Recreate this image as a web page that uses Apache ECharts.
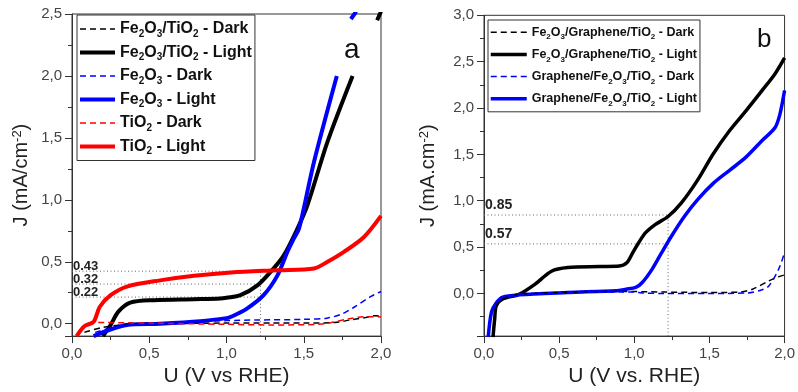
<!DOCTYPE html>
<html>
<head>
<meta charset="utf-8">
<script src="https://cdn.jsdelivr.net/npm/echarts@6/dist/echarts.min.js"></script>
<style>html,body{margin:0;padding:0;background:#fff;}#c{width:798px;height:392px;}</style>
</head>
<body>
<div id="c"></div>
<script>
// ---------- Panel a data: [U (V vs RHE), J (mA/cm2)] ----------
const a_FeTi_dark = [[0.08,-0.07],[0.2,-0.03],[0.4,0.0],[0.7,0.003],[1.0,0.005],[1.3,0.005],[1.5,0.005],[1.7,0.01],[1.8,0.03],[1.9,0.05],[1.96,0.065],[2.0,0.06]];
const a_FeTi_light = [[0.2,-0.1],[0.25,-0.01],[0.3,0.097],[0.377,0.17],[0.53,0.19],[0.79,0.198],[0.96,0.204],[1.0,0.21],[1.09,0.23],[1.2,0.31],[1.286,0.42],[1.37,0.55],[1.46,0.77],[1.524,0.957],[1.654,1.47],[1.816,2.0],[null,null],[1.975,2.45],[2.0,2.52]];
const a_Fe_dark = [[0.15,-0.07],[0.3,-0.02],[0.5,0.0],[0.8,0.015],[1.0,0.025],[1.2,0.03],[1.5,0.035],[1.65,0.045],[1.75,0.08],[1.83,0.137],[1.935,0.22],[2.0,0.26]];
const a_Fe_light = [[0.14,-0.1],[0.355,-0.01],[0.57,0.0],[0.83,0.02],[1.0,0.045],[1.03,0.056],[1.13,0.12],[1.24,0.23],[1.33,0.39],[1.394,0.58],[1.437,0.69],[1.47,0.77],[1.567,1.31],[1.714,2.0],[null,null],[1.805,2.46],[1.84,2.52]];
const a_Ti_dark = [[0.17,0.01],[0.5,0.005],[1.0,-0.005],[1.3,-0.01],[1.6,-0.005],[1.675,0.008],[1.78,0.037],[1.89,0.056],[2.0,0.055]];
const a_Ti_light = [[0.03,-0.1],[0.08,-0.02],[0.14,0.016],[0.18,0.137],[0.25,0.23],[0.355,0.30],[0.57,0.35],[0.79,0.387],[1.03,0.414],[1.33,0.432],[1.567,0.446],[1.654,0.5],[1.76,0.58],[1.89,0.70],[2.0,0.87]];
const a_markValues = ['0.43', '0.32', '0.22'];
const a_markLevels = [0.424, 0.32, 0.215];
const a_markU = 1.22;

// ---------- Panel b data ----------
const b_FGT_dark = [[0.06,-0.47],[0.07,-0.28],[0.085,-0.13],[0.125,-0.06],[0.23,-0.01],[0.5,0.01],[0.8,0.02],[1.0,0.02],[1.2,0.015],[1.5,0.01],[1.7,0.015],[1.786,0.046],[1.895,0.135],[1.96,0.18],[2.0,0.2]];
const b_FGT_light = [[0.06,-0.47],[0.071,-0.275],[0.082,-0.13],[0.125,-0.06],[0.233,-0.01],[0.34,0.10],[0.449,0.24],[0.557,0.28],[0.772,0.29],[0.90,0.295],[0.95,0.33],[0.99,0.44],[1.03,0.55],[1.074,0.653],[1.139,0.742],[1.225,0.83],[1.312,0.974],[1.42,1.22],[1.527,1.51],[1.636,1.76],[1.743,1.97],[1.851,2.19],[1.937,2.37],[2.0,2.54]];
const b_GFT_dark = [[0.03,-0.47],[0.05,-0.2],[0.08,-0.1],[0.125,-0.04],[0.23,-0.015],[0.5,0.005],[0.9,0.015],[1.0,0.015],[1.05,0.005],[1.2,0.0],[1.5,0.0],[1.75,0.005],[1.85,0.04],[1.895,0.08],[1.96,0.26],[2.0,0.44]];
const b_GFT_light = [[0.028,-0.47],[0.05,-0.2],[0.082,-0.1],[0.125,-0.04],[0.233,-0.015],[0.557,0.01],[0.88,0.03],[0.945,0.046],[1.01,0.065],[1.053,0.118],[1.118,0.26],[1.182,0.44],[1.247,0.617],[1.333,0.83],[1.42,1.01],[1.527,1.19],[1.636,1.33],[1.743,1.47],[1.851,1.65],[1.937,1.79],[1.97,1.94],[2.0,2.19]];
const b_markValues = ['0.85', '0.57'];
const b_markLevels = [0.846, 0.535];
const b_markU = 1.225;

const names_a = ['Fe2O3/TiO2 - Dark','Fe2O3/TiO2 - Light','Fe2O3 - Dark','Fe2O3 - Light','TiO2 - Dark','TiO2 - Light'];
const names_b = ['Fe2O3/Graphene/TiO2 - Dark','Fe2O3/Graphene/TiO2 - Light','Graphene/Fe2O3/TiO2 - Dark','Graphene/Fe2O3/TiO2 - Light'];

const FONT = 'Liberation Sans, Arial, sans-serif';
const chart = echarts.init(document.getElementById('c'), null, {renderer:'canvas'});

function richName(name){
  let out = '';
  name.split(/(\d)/).forEach(p => {
    if (p === '') return;
    if (/^\d$/.test(p)) out += '{s|' + p + '}';
    else out += '{b|' + p + '}';
  });
  return out;
}

function curve(name, data, color, dashed, xi, yi){
  return {
    name: name, type: 'line', xAxisIndex: xi, yAxisIndex: yi, data: data,
    showSymbol: false, symbol: 'none', smooth: 0.3, connectNulls: false,
    lineStyle: dashed ? {color: color, width: 1.5, type: [6,4]} : {color: color, width: xi === 0 ? 4 : 3.5},
    itemStyle: {color: color},
    animation: false, silent: true, z: dashed ? 3 : 2
  };
}

function dotted(data, xi, yi, labelText, fs, dist, oy){
  const d = data.map((p, i) => {
    if (i === 0 && labelText) {
      return {value: p, label: {show: true, position: 'top', align: 'left', distance: dist, offset: [1, oy], formatter: labelText,
        fontFamily: FONT, fontWeight: 'bold', fontSize: fs, color: '#222'}};
    }
    return {value: p};
  });
  return {type: 'line', xAxisIndex: xi, yAxisIndex: yi, data: d, showSymbol: true, symbol: 'circle', symbolSize: 0,
    itemStyle: {color: 'rgba(0,0,0,0)'},
    lineStyle: {color: '#666', width: 1, type: [1,2.5]}, animation: false, silent: true, z: 1};
}

const series = [];
const colorsA = ['#000','#000','#0000ff','#0000ff','#ff0000','#ff0000'];
const dataA = [a_FeTi_dark, a_FeTi_light, a_Fe_dark, a_Fe_light, a_Ti_dark, a_Ti_light];
names_a.forEach((n, i) => series.push(curve(n, dataA[i], colorsA[i], i % 2 === 0, 0, 0)));
const colorsB = ['#000','#000','#0000ff','#0000ff'];
const dataB = [b_FGT_dark, b_FGT_light, b_GFT_dark, b_GFT_light];
names_b.forEach((n, i) => series.push(curve(n, dataB[i], colorsB[i], i % 2 === 0, 1, 1)));

a_markLevels.forEach((lv, i) => series.push(dotted([[0, lv],[a_markU, lv]], 0, 0, a_markValues[i], 13, 0, 2)));
series.push(dotted([[a_markU, -0.1],[a_markU, a_markLevels[0]]], 0, 0, null));
b_markLevels.forEach((lv, i) => series.push(dotted([[0, lv],[b_markU, lv]], 1, 1, b_markValues[i], 14, 3, 0)));
series.push(dotted([[b_markU, -0.46],[b_markU, b_markLevels[0]]], 1, 1, null));

const commaFmt = v => v.toFixed(1).replace('.', ',');

function xAx(gi, name){
  return {type:'value', gridIndex: gi, min: 0, max: 2, interval: 0.5,
    name: name, nameLocation: 'middle', nameGap: 29,
    nameTextStyle: {fontFamily: FONT, fontSize: 21, color: '#222'},
    axisLine: {show: true, onZero: false, lineStyle: {color: '#333', width: 1}},
    axisTick: {show: true, inside: false, length: 7, lineStyle: {color: '#333'}},
    minorTick: {show: true, splitNumber: 2, length: 4, lineStyle: {color: '#333'}},
    axisLabel: {formatter: commaFmt, fontFamily: FONT, fontSize: 15, color: '#444', margin: 10},
    splitLine: {show: false}
  };
}
function yAx(gi, min, max, split, name, gap){
  return {type:'value', gridIndex: gi, min: min, max: max, splitNumber: split,
    name: name, nameLocation: 'middle', nameGap: gap, nameRotate: 90,
    nameTextStyle: {fontFamily: FONT, fontSize: 20, color: '#222', rich: {
      n: {fontFamily: FONT, fontSize: 20, color: '#222'},
      p: {fontFamily: FONT, fontSize: 13, color: '#222', verticalAlign: 'top', lineHeight: 13}
    }},
    axisLine: {show: true, onZero: false, lineStyle: {color: '#333', width: 1}},
    axisTick: {show: true, inside: false, length: 7, lineStyle: {color: '#333'}},
    minorTick: {show: true, splitNumber: 2, length: 4, lineStyle: {color: '#333'}},
    axisLabel: {formatter: commaFmt, showMinLabel: false, fontFamily: FONT, fontSize: 15, color: '#444', margin: 10},
    splitLine: {show: false}
  };
}

function legend(names, left, top, fs, sfs, lh, gap, iw, pad){
  return {
    data: names, orient: 'vertical', left: left, top: top,
    itemWidth: iw, itemHeight: lh, itemGap: gap, selectedMode: false,
    borderColor: '#333', borderWidth: 1, padding: pad, backgroundColor: '#fff',
    itemStyle: {opacity: 0},
    lineStyle: {width: 'inherit'},
    formatter: richName,
    textStyle: {fontFamily: FONT, rich: {
      b: {fontFamily: FONT, fontWeight: 'bold', fontSize: fs, color: '#111', lineHeight: lh},
      s: {fontFamily: FONT, fontWeight: 'bold', fontSize: sfs, color: '#111', lineHeight: sfs, verticalAlign: 'bottom'}
    }}
  };
}

chart.setOption({
  animation: false,
  backgroundColor: '#fff',
  grid: [
    {left: 72, right: 417, top: 14, bottom: 54.5, show: true, borderColor: '#333', borderWidth: 1},
    {left: 484, right: 5, top: 15.3, bottom: 54.3, show: true, borderColor: '#333', borderWidth: 1}
  ],
  xAxis: [xAx(0, 'U (V vs RHE)'), xAx(1, 'U (V vs. RHE)')],
  yAxis: [
    yAx(0, -0.1, 2.5, 5, '{n|J (mA/cm}{p|-2}{n|)}', 41),
    yAx(1, -0.46, 3.0, 7, '{n|J (mA.cm}{p|-2}{n|)}', 46)
  ],
  legend: [
    legend(names_a, 77, 15, 16, 10, 20, 5.5, 35, [6, 3, 4, 1]),
    legend(names_b, 488, 20, 12.5, 8, 18, 6, 36, [5, 3, 4, 1])
  ],
  graphic: [
    {type: 'text', left: 344, top: 36, style: {text: 'a', fontFamily: FONT, fontSize: 28, fill: '#111'}},
    {type: 'text', left: 757, top: 27, style: {text: 'b', fontFamily: FONT, fontSize: 26, fill: '#111'}}
  ],
  series: series
});
</script>
</body>
</html>
